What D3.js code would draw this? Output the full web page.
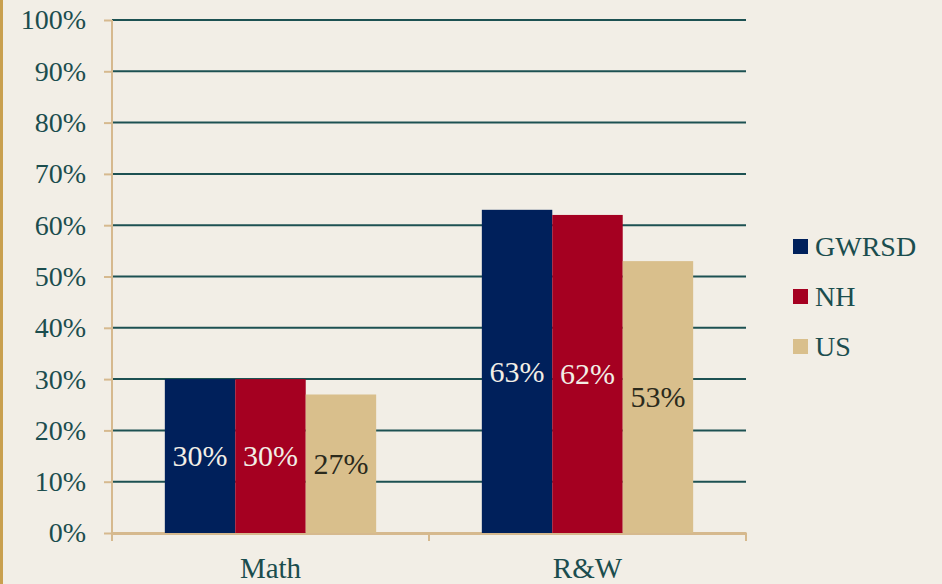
<!DOCTYPE html>
<html>
<head>
<meta charset="utf-8">
<script src="https://cdn.jsdelivr.net/npm/d3@7"></script>
<style>
  html, body { margin: 0; padding: 0; background: #f2eee6; }
</style>
</head>
<body>
<script>
// data
var categories = ["Math", "R&W"];
var seriesNames = ["GWRSD", "NH", "US"];
var gwrsd = [30, 63];
var nh = [30, 62];
var us = [27, 53];
var yTicks = [0, 10, 20, 30, 40, 50, 60, 70, 80, 90, 100];

var colors = ["#00205b", "#a50021", "#d9bf8c"];
var labelColors = ["#f2eee6", "#f2eee6", "#2b2a1c"];
var serif = "Liberation Serif";

var W = 942, H = 584;
var margin = {top: 20, right: 196, bottom: 51, left: 112},
    width = W - margin.left - margin.right,
    height = H - margin.top - margin.bottom;

var svg = d3.select("body").append("svg")
    .attr("width", W)
    .attr("height", H)
    .attr("font-family", serif);

svg.append("rect").attr("width", W).attr("height", H).attr("fill", "#f2eee6");
// gold stripe at the left edge
svg.append("rect").attr("x", 0).attr("y", 0).attr("width", 3).attr("height", H).attr("fill", "#c9a04f");

var g = svg.append("g")
    .attr("transform", "translate(" + margin.left + "," + margin.top + ")");

var x0 = d3.scaleBand().domain(categories).range([0, width]).paddingInner(0).paddingOuter(0);
var x1 = d3.scaleBand().domain(seriesNames).range([0, x0.bandwidth()]).paddingInner(0).paddingOuter(0.75);
var y = d3.scaleLinear().domain([0, 100]).range([height, 0]);

// gridlines
g.selectAll(".grid")
    .data(yTicks.filter(function(d) { return d > 0; }))
    .enter().append("line")
      .attr("x1", 0).attr("x2", width)
      .attr("y1", function(d) { return y(d); })
      .attr("y2", function(d) { return y(d); })
      .attr("stroke", "#1d5152")
      .attr("stroke-width", 2);

// y axis
var yAxis = g.append("g")
    .call(d3.axisLeft(y).tickValues(yTicks).tickFormat(function(d) { return d + "%"; })
      .tickSize(8).tickPadding(18));
yAxis.attr("font-family", serif).attr("font-size", 28);
yAxis.select(".domain").attr("stroke", "#d6b98e").attr("stroke-width", 2)
    .attr("d", "M0,0V" + (height + 8));
yAxis.selectAll(".tick line").attr("stroke", "#d6b98e").attr("stroke-width", 2);
yAxis.selectAll("text").attr("fill", "#1b4d4e")
    .attr("font-family", serif).attr("font-size", 28)
    .style("font-family", serif).style("font-size", "28px");

// x axis
var xAxis = g.append("g")
    .attr("transform", "translate(0," + height + ")")
    .call(d3.axisBottom(x0).tickSize(0).tickPadding(24));
xAxis.attr("font-family", serif).attr("font-size", 29);
xAxis.select(".domain").attr("stroke", "#d6b98e").attr("stroke-width", 3);
xAxis.selectAll("text").attr("fill", "#1b4d4e")
    .attr("font-family", serif).attr("font-size", 29)
    .style("font-family", serif).style("font-size", "29px");
// category boundary ticks
g.selectAll(".xtick")
    .data([0, 1, 2])
    .enter().append("line")
      .attr("x1", function(d) { return d * x0.bandwidth(); })
      .attr("x2", function(d) { return d * x0.bandwidth(); })
      .attr("y1", height).attr("y2", height + 8)
      .attr("stroke", "#d6b98e").attr("stroke-width", 2);

// bars
var series = [gwrsd, nh, us];
var rows = [];
categories.forEach(function(c, i) {
  seriesNames.forEach(function(s, j) {
    rows.push({cat: c, name: s, idx: j, value: series[j][i]});
  });
});

var bars = g.selectAll(".bar")
    .data(rows)
    .enter().append("g")
      .attr("transform", function(d) { return "translate(" + (x0(d.cat) + x1(d.name)) + ",0)"; });

bars.append("rect")
    .attr("x", 0)
    .attr("width", x1.bandwidth())
    .attr("y", function(d) { return y(d.value); })
    .attr("height", function(d) { return height - y(d.value); })
    .attr("fill", function(d) { return colors[d.idx]; });

bars.append("text")
    .attr("x", x1.bandwidth() / 2)
    .attr("y", function(d) { return (y(d.value) + height) / 2; })
    .attr("dy", "0.34em")
    .attr("text-anchor", "middle")
    .attr("fill", function(d) { return labelColors[d.idx]; })
    .attr("font-family", serif).attr("font-size", 30)
    .style("font-family", serif).style("font-size", "30px")
    .text(function(d) { return d.value + "%"; });

// legend
var legend = svg.append("g").attr("transform", "translate(793,246)");
var items = legend.selectAll(".item")
    .data(seriesNames)
    .enter().append("g")
      .attr("transform", function(d, i) { return "translate(0," + (i * 50) + ")"; });
items.append("rect")
    .attr("x", 0).attr("y", -7)
    .attr("width", 15).attr("height", 15)
    .attr("fill", function(d, i) { return colors[i]; });
items.append("text")
    .attr("x", 22).attr("y", 0).attr("dy", "0.35em")
    .attr("fill", "#1b4d4e")
    .attr("font-family", serif).attr("font-size", 28)
    .style("font-family", serif).style("font-size", "28px")
    .text(function(d) { return d; });
</script>
</body>
</html>
